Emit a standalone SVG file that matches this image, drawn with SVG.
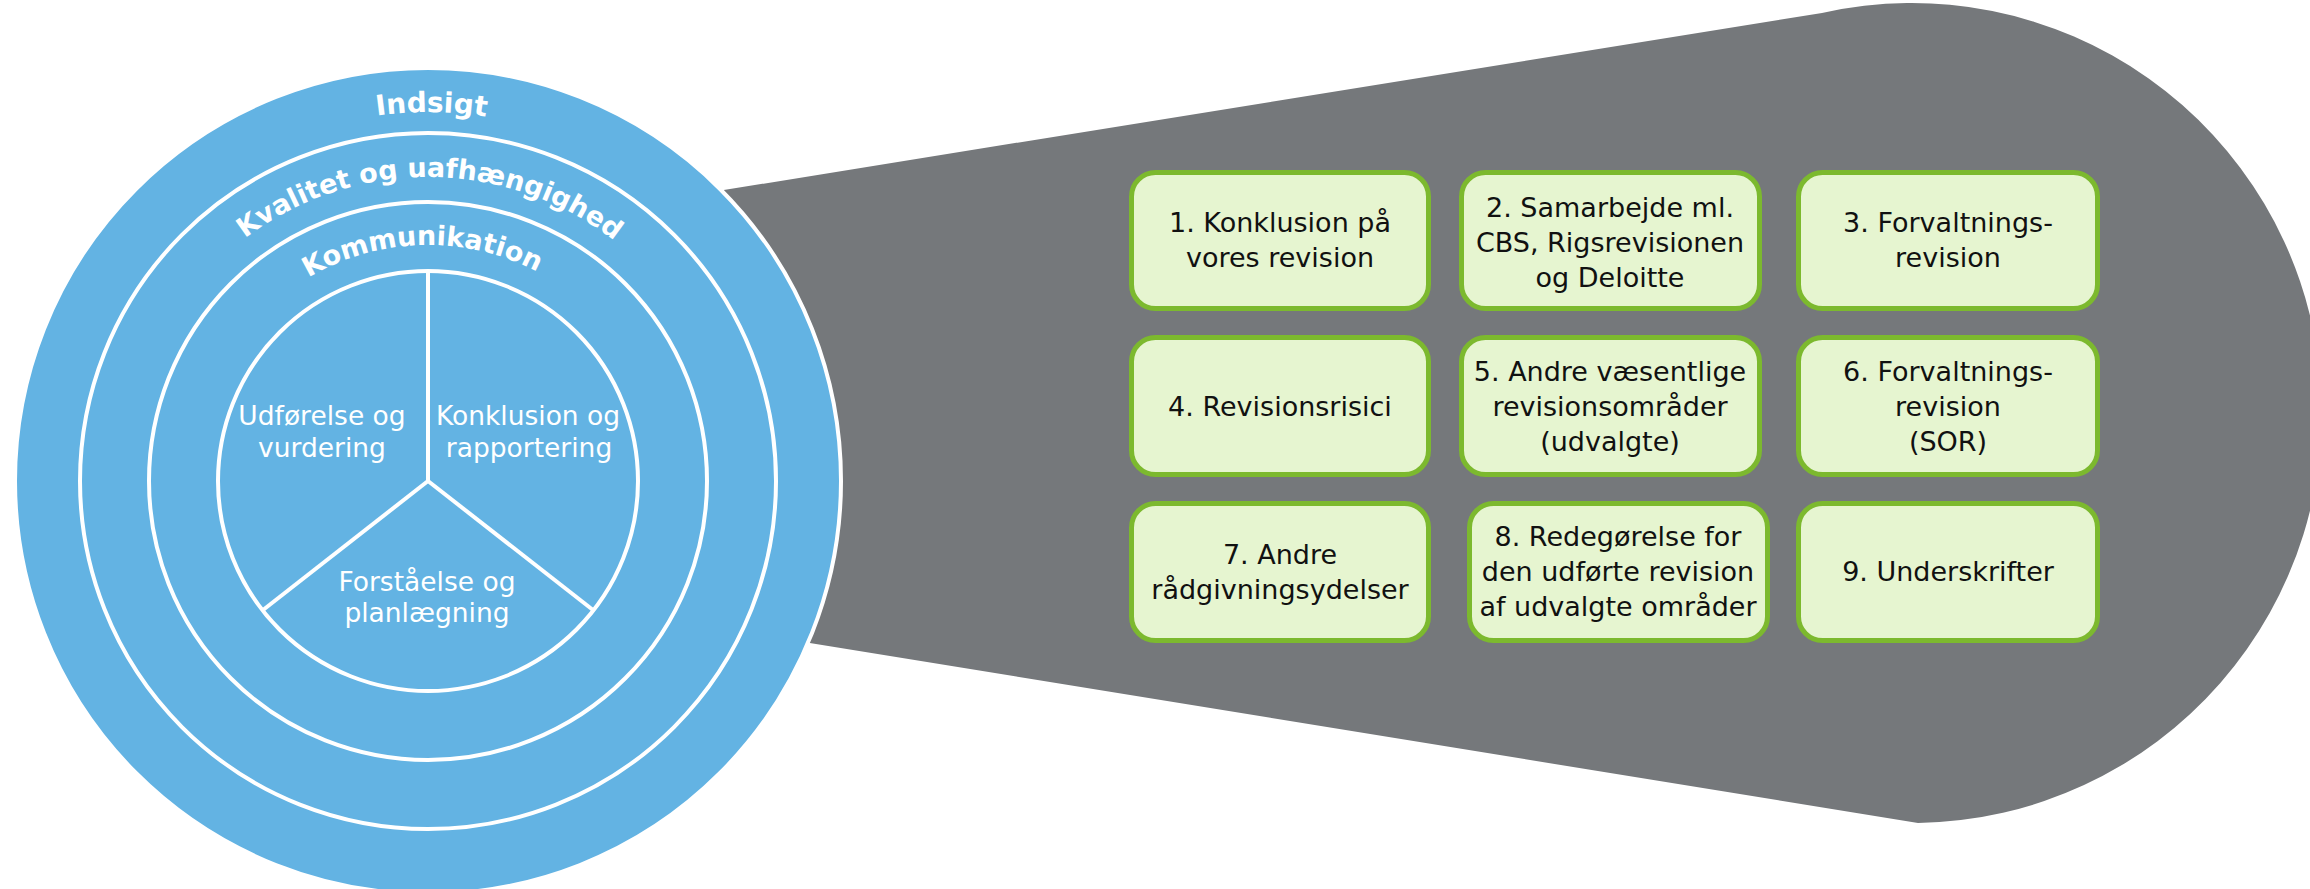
<svg xmlns="http://www.w3.org/2000/svg" width="2310" height="889" viewBox="0 0 2310 889">
  <defs>
    <style>
      .ring { fill: none; stroke: #ffffff; stroke-width: 4; }
      .spoke { stroke: #ffffff; stroke-width: 4; stroke-linecap: butt; }
      .arcLabel { font-family: "DejaVu Sans", Verdana, sans-serif; font-weight: bold; font-size: 27px; fill: #ffffff; }
      .phase { font-family: "DejaVu Sans", Verdana, sans-serif; font-size: 26.5px; fill: #ffffff; text-anchor: middle; }
      .box rect { fill: #e6f5d0; stroke: #7cb92e; stroke-width: 5; }
      .box text { font-family: "DejaVu Sans", Verdana, sans-serif; font-size: 27px; fill: #111111; text-anchor: middle; }
    </style>
    <!-- baseline arcs for the curved ring titles, left to right over the top -->
    <path id="arcIndsigt" d="M 59,481 A 369 369 0 0 1 797,481"/>
    <path id="arcKvalitet" d="M 124,481 A 304 304 0 0 1 732,481"/>
    <path id="arcKommunikation" d="M 192,481 A 236 236 0 0 1 664,481"/>
  </defs>

  <!-- grey callout widening from the circle to the topic panel -->
  <g id="callout">
    <path d="M 600,210 L 1822,13 A 410 410 0 1 1 1918,823 L 600,609 Z" fill="#75787b"/>
  </g>

  <!-- audit model circle -->
  <g id="audit-model">
    <circle cx="428" cy="481" r="413" fill="#63b3e3" stroke="#ffffff" stroke-width="4"/>
    <circle class="ring" cx="428" cy="481" r="348"/>
    <circle class="ring" cx="428" cy="481" r="279"/>
    <circle class="ring" cx="428" cy="481" r="210"/>
    <line class="spoke" x1="428" y1="483" x2="428" y2="271"/>
    <line class="spoke" x1="428" y1="481" x2="263" y2="610"/>
    <line class="spoke" x1="428" y1="481" x2="593" y2="610"/>

    <g id="ring-indsigt">
      <text class="arcLabel" style="font-size:28px"><textPath href="#arcIndsigt" startOffset="50.3%" text-anchor="middle">Indsigt</textPath></text>
    </g>
    <g id="ring-kvalitet">
      <text class="arcLabel"><textPath href="#arcKvalitet" startOffset="50.2%" text-anchor="middle">Kvalitet og uafhængighed</textPath></text>
    </g>
    <g id="ring-kommunikation">
      <text class="arcLabel"><textPath href="#arcKommunikation" startOffset="49.2%" text-anchor="middle">Kommunikation</textPath></text>
    </g>

    <g id="phase-udfoerelse">
      <text class="phase" x="322" y="425">Udførelse og</text>
      <text class="phase" x="322" y="457">vurdering</text>
    </g>
    <g id="phase-konklusion">
      <text class="phase" x="528" y="425">Konklusion og</text>
      <text class="phase" x="529" y="457">rapportering</text>
    </g>
    <g id="phase-forstaaelse">
      <text class="phase" x="427" y="591">Forståelse og</text>
      <text class="phase" x="427" y="622">planlægning</text>
    </g>
  </g>

  <!-- topic boxes, three rows of three -->
  <g id="topic-1" class="box">
    <rect x="1131.5" y="172.5" width="297" height="136" rx="24"/>
    <text x="1280" y="232">1. Konklusion på</text>
    <text x="1280" y="267">vores revision</text>
  </g>
  <g id="topic-2" class="box">
    <rect x="1461.5" y="172.5" width="298" height="136" rx="24"/>
    <text x="1610" y="217">2. Samarbejde ml.</text>
    <text x="1610" y="252">CBS, Rigsrevisionen</text>
    <text x="1610" y="287">og Deloitte</text>
  </g>
  <g id="topic-3" class="box">
    <rect x="1798.5" y="172.5" width="299" height="136" rx="24"/>
    <text x="1948" y="232">3. Forvaltnings-</text>
    <text x="1948" y="267">revision</text>
  </g>

  <g id="topic-4" class="box">
    <rect x="1131.5" y="337.5" width="297" height="137" rx="24"/>
    <text x="1280" y="416">4. Revisionsrisici</text>
  </g>
  <g id="topic-5" class="box">
    <rect x="1461.5" y="337.5" width="298" height="137" rx="24"/>
    <text x="1610" y="381">5. Andre væsentlige</text>
    <text x="1610" y="416">revisionsområder</text>
    <text x="1610" y="451">(udvalgte)</text>
  </g>
  <g id="topic-6" class="box">
    <rect x="1798.5" y="337.5" width="299" height="137" rx="24"/>
    <text x="1948" y="381">6. Forvaltnings-</text>
    <text x="1948" y="416">revision</text>
    <text x="1948" y="451">(SOR)</text>
  </g>

  <g id="topic-7" class="box">
    <rect x="1131.5" y="503.5" width="297" height="137" rx="24"/>
    <text x="1280" y="564">7. Andre</text>
    <text x="1280" y="599">rådgivningsydelser</text>
  </g>
  <g id="topic-8" class="box">
    <rect x="1469.5" y="503.5" width="298" height="137" rx="24"/>
    <text x="1618" y="546">8. Redegørelse for</text>
    <text x="1618" y="581">den udførte revision</text>
    <text x="1618" y="616">af udvalgte områder</text>
  </g>
  <g id="topic-9" class="box">
    <rect x="1798.5" y="503.5" width="299" height="137" rx="24"/>
    <text x="1948" y="581">9. Underskrifter</text>
  </g>
</svg>
